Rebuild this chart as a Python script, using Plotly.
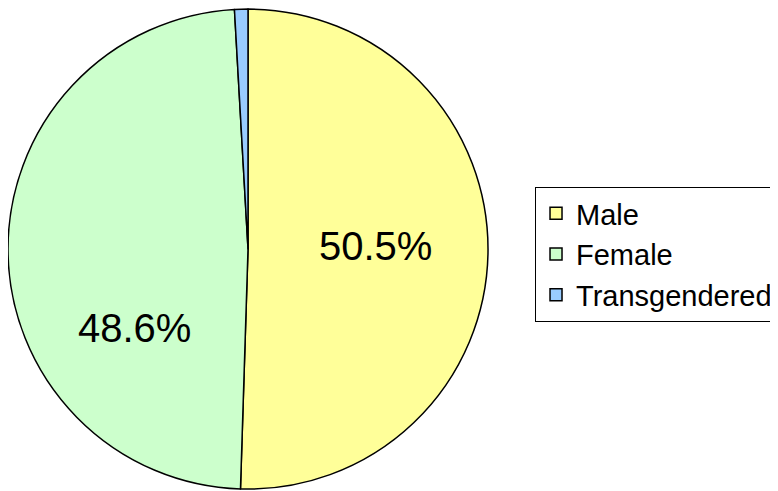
import plotly.graph_objects as go

labels = ["Male", "Female", "Transgendered"]
values = [50.5, 48.6, 0.9]
colors = ["#FFFF99", "#CCFFCC", "#99CCFF"]
shown_labels = ["50.5%", "48.6%", ""]

fig = go.Figure()

fig.add_trace(go.Pie(
    labels=labels,
    values=values,
    sort=False,
    direction="clockwise",
    rotation=0,
    marker=dict(colors=colors, line=dict(color="black", width=1.5)),
    textinfo="none",
    hoverinfo="label+percent",
    domain=dict(x=[0.0, 0.617], y=[0.018, 1.0]),
))

# percentage labels placed like the original
label_pos = [(0.473, 0.515), (0.162, 0.348)]
for (lx, ly), txt in zip(label_pos, shown_labels):
    if txt:
        fig.add_annotation(x=lx, y=ly, xref="paper", yref="paper", text=txt,
                           xanchor="center", yanchor="middle",
                           showarrow=False, font=dict(size=40, color="black"))

fig.update_layout(
    width=778, height=491,
    margin=dict(l=0, r=0, t=0, b=0),
    paper_bgcolor="white",
    font=dict(family="Liberation Sans, Arial, sans-serif", color="black"),
    showlegend=True,
    legend=dict(
        x=0.6774, y=0.6354, xanchor="left", yanchor="top",
        bordercolor="black", borderwidth=1, bgcolor="white",
        font=dict(size=29),
        itemwidth=30,
    ),
)

fig.write_html("out.html")
